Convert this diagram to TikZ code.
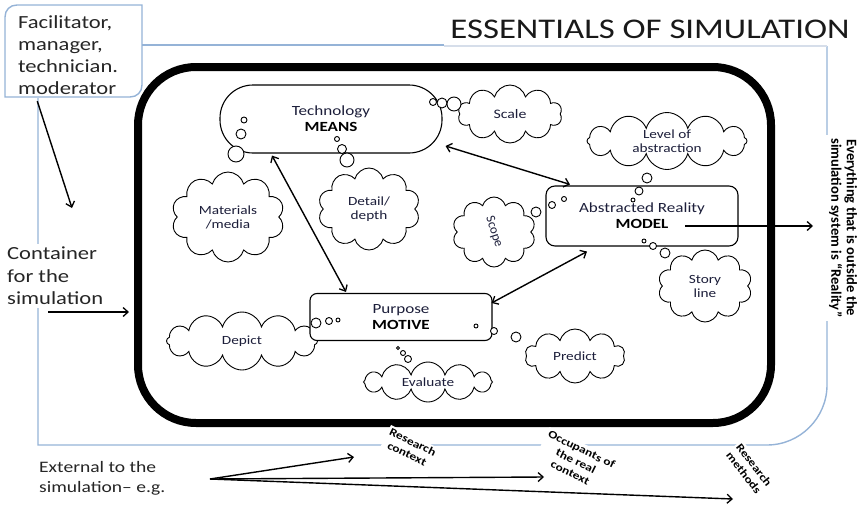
\documentclass[tikz,border=0pt]{standalone}
\usepackage{fontspec}
\setmainfont{Carlito}[FakeStretch=1.22]
\newfontfamily\uprightfam{Carlito}
\usetikzlibrary{shapes.symbols,arrows.meta,calc}

\definecolor{framebl}{RGB}{149,179,215}
\definecolor{framegr}{RGB}{214,222,234}
\definecolor{ink}{RGB}{28,30,58}

\begin{document}
\begin{tikzpicture}[x=1pt,y=-1pt,
  >={Straight Barb[length=5pt,width=9pt,line width=1.3pt]},
  frame/.style={draw=framebl,line width=1.4pt},
  conn/.style={line width=1.4pt,->},
  dconn/.style={line width=1.4pt,<->},
  puff/.style={cloud,draw,line width=0.9pt,cloud puffs=10,cloud ignores aspect,
    fill=white,text=ink,font=\fontsize{12.5}{14}\selectfont,align=center,inner sep=0pt},
  bub/.style={draw,line width=0.9pt,fill=white},
  hub/.style={draw,line width=1.1pt,rounded corners=9pt,fill=white,align=center,
    text=ink,font=\fontsize{14}{16}\selectfont},
  tag/.style={fill=white,align=center,font=\bfseries\fontsize{11}{13}\selectfont,inner sep=2pt},
  side/.style={fill=white,align=left,text=black!85,inner sep=4pt},
]
\useasboundingbox (0,0) rectangle (857,506);

% outer light-blue frame around the container
\draw[frame] (38,98) -- (38,445) -- (767,445)
  .. controls (800,445) and (827,418) .. (827,385) -- (827,46);
\draw[draw=framegr,line width=1.4pt] (444,46) -- (827,46);

% callout with the people running the simulation
\draw[frame,fill=white] (5,97) -- (5,17) .. controls (5,10) and (10,5) .. (17,5)
  -- (142,5) -- (142,85) .. controls (142,92) and (137,97) .. (130,97) -- cycle;
\draw[frame] (142,45) -- (444,45);
\node[align=left,text=black!85,font=\fontsize{18.5}{22}\selectfont,inner sep=0pt,
  minimum width=137pt,minimum height=92pt,text width=112pt]
  (facil) at (74,55) {Facilitator,\\manager,\\technician.\\moderator};

% title
\node[font=\fontsize{28.5}{30}\selectfont,text=black!90] (title) at (650,29) {ESSENTIALS OF SIMULATION};

% the simulation container
\draw[line width=8pt,rounded corners=58pt] (138,67) rectangle (771,423);

% clouds
\node[puff,minimum width=104pt,minimum height=58pt] (scale) at (510,114) {\fontsize{13}{14}\selectfont Scale};
\node[puff,minimum width=160pt,minimum height=57pt,cloud puffs=12] (level) at (667,141) {Level of\\abstraction};
\node[puff,minimum width=113pt,minimum height=90pt] (mater) at (228,217) {Materials\\/media};
\node[puff,minimum width=102pt,minimum height=82pt] (detail) at (369,209) {Detail/\\depth};
\node[puff,minimum width=83pt,minimum height=70pt] (scope) at (494,232)
  {\rotatebox{-72}{\uprightfam\fontsize{13}{14}\selectfont Scope}};
\node[puff,minimum width=94pt,minimum height=72pt] (story) at (705,286) {Story\\line};
\node[puff,minimum width=151pt,minimum height=58pt,cloud puffs=12] (depict) at (242,341) {Depict};
\node[puff,minimum width=129pt,minimum height=40pt,cloud puffs=12] (eval) at (428,382) {Evaluate};
\node[puff,minimum width=100pt,minimum height=54pt] (predict) at (575,356) {Predict};

% the three hubs
\node[hub,rounded corners=33pt,minimum width=222pt,minimum height=68pt] (tech) at (331,119)
  {Technology\\\textbf{\color{black}MEANS}};
\node[hub,minimum width=192pt,minimum height=60pt] (model) at (642,216)
  {Abstracted Reality\\\textbf{\color{black}MODEL}};
\node[hub,rounded corners=7pt,minimum width=182pt,minimum height=47pt] (purpose) at (401,317)
  {Purpose\\\textbf{\color{black}MOTIVE}};

% thought bubbles
\foreach \x/\y/\r in {244/120/3, 241/134/5, 236/154/8, 337/139/2.5, 342/149/4.5, 347/160/7,
    433/102/3.5, 442/103/5, 454/104/7,
    647/178/5, 639/191/4, 633/200/2, 564/199/2.5, 552/205/3.5, 536/212/5,
    644/241/2, 653/246/3.5, 665/253/5,
    316/323/5, 329/321/3.5, 338/320/2, 476/326/2, 494/331/3.5, 516/337/5,
    398/348/1.5, 403/353/2.5, 408/359/3.5}
  \draw[bub] (\x,\y) circle[radius=\r pt];

% links between the hubs
\draw[dconn] ([xshift=-59pt,yshift=-2pt]tech.south) -- ([xshift=-55pt,yshift=1pt]purpose.north);
\draw[dconn] ([xshift=3pt,yshift=-27pt]tech.east) -- ([xshift=-72pt,yshift=1pt]model.north);
\draw[dconn] ([xshift=-55pt,yshift=-5pt]model.south) -- ([xshift=-1pt,yshift=14pt]purpose.east);

% the model points out to reality
\coordinate (outside) at (813,226);
\draw[conn] ([xshift=43pt,yshift=-10pt]model.center) -- (outside);
\node[side,rotate=-90,align=center,font=\uprightfam\bfseries\fontsize{14.5}{15.5}\selectfont,text=black,inner sep=3pt]
  (reality) at (843,228) {Everything that is outside the\\simulation system is “Reality”};

% left side labels
\node[side,font=\fontsize{18.5}{22.5}\selectfont,anchor=north west,inner sep=3pt] (contain) at (4,244)
  {Container\\for the\\simulation};
\coordinate (wall) at (129,312);
\draw[conn] (48,312) -- (wall);
\coordinate (contTop) at (72,208);
\draw[conn] ([xshift=32pt]facil.south west) -- (contTop);

% external influences
\node[side,font=\fontsize{16}{20}\selectfont,anchor=north west,inner sep=0pt] (ext) at (39,461)
  {External to the\\simulation– e.g.};
\node[tag,rotate=-26] (rc) at (410,448) {Research\\context};
\node[tag,rotate=-26] (occ) at (576,461) {Occupants of\\the real\\context};
\node[tag,rotate=-52] (rm) at (749,469) {Research\\methods};
\coordinate (src) at (210,479);
\coordinate (e1) at (354,457);
\coordinate (e2) at (544,477);
\coordinate (e3) at (733,499);
\draw[conn] (src) -- (e1);
\draw[conn] (src) -- (e2);
\draw[conn] (src) -- (e3);
\end{tikzpicture}
\end{document}
